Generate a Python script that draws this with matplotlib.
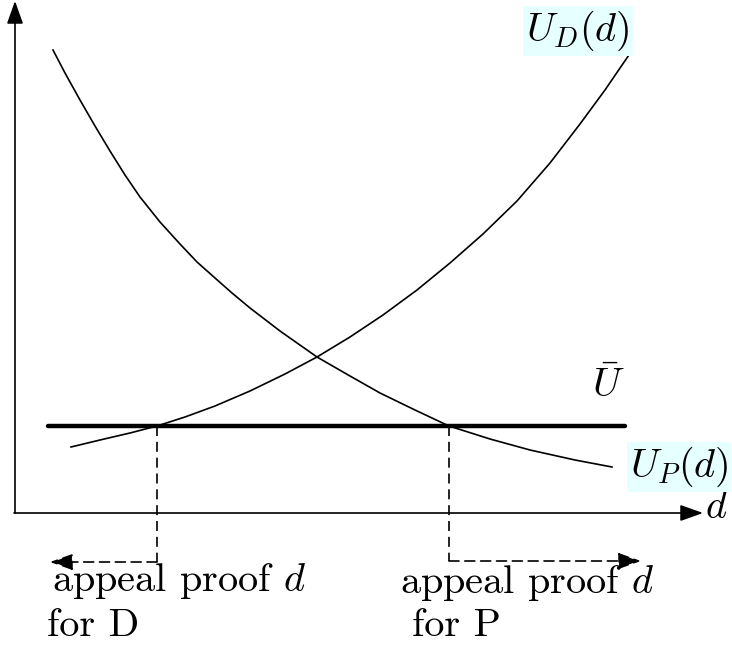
import matplotlib
matplotlib.use("Agg")
import matplotlib.pyplot as plt

plt.rcParams['font.family'] = 'serif'
plt.rcParams['font.serif'] = ['cmr10', 'DejaVu Serif']
plt.rcParams['mathtext.fontset'] = 'cm'
plt.rcParams['axes.unicode_minus'] = False

# curves (pixel coords, y pointing down)
ud_x = [71, 100, 130, 157, 185, 215, 250, 285, 317, 350, 383, 417, 450, 483, 517, 550, 580, 605, 631]
ud_y = [447, 440, 433, 426, 417, 406, 391, 374, 357, 337, 315, 290, 263, 234, 201, 163, 124, 90, 52]

up_x = [53, 65, 80, 95, 110, 125, 140, 160, 180, 197, 215, 232, 250, 280, 317, 350, 380, 415, 449,
        490, 530, 575, 612]
up_y = [50, 73, 100, 126, 151, 175, 197, 222, 244, 262, 278, 293, 308, 331, 357, 376, 393, 410, 426,
        439, 450, 460, 467]

ubar_y = 426
ubar_x = [48, 625]
cut_d = 157   # appeal proof d for D
cut_p = 449   # appeal proof d for P

highlight = '#e6ffff'

fig = plt.figure(figsize=(7.32, 6.5), dpi=100)
ax = fig.add_axes([0, 0, 1, 1])
ax.set_xlim(0, 732)
ax.set_ylim(650, 0)
ax.axis('off')

arrow = dict(arrowstyle='-|>,head_length=0.7,head_width=0.25', color='black',
             lw=1.2, mutation_scale=20, shrinkA=0, shrinkB=0)

# axes
ax.annotate('', xy=(15, 1), xytext=(15, 513), arrowprops=arrow)
ax.annotate('', xy=(703, 513), xytext=(14, 513), arrowprops=arrow)
ax.text(716, 508, '$d$', fontsize=29, ha='center', va='center')

# curves
ax.plot(ud_x, ud_y, color='black', lw=1.2, solid_joinstyle='round')
ax.plot(up_x, up_y, color='black', lw=1.2, solid_joinstyle='round')
ax.plot(ubar_x, [ubar_y, ubar_y], color='black', lw=3.2, solid_capstyle='round')

# dashed guides
dash = (0, (6, 3.5))
ax.plot([cut_d, cut_d], [ubar_y, 562], color='black', lw=1.2, linestyle=dash)
ax.plot([cut_p, cut_p], [ubar_y, 561], color='black', lw=1.2, linestyle=dash)
darrow = dict(arrow, linestyle=dash)
ax.annotate('', xy=(50, 562), xytext=(cut_d, 562), arrowprops=darrow)
ax.annotate('', xy=(641, 561), xytext=(cut_p, 561), arrowprops=darrow)

# labels
box = dict(boxstyle='square,pad=0.08', fc=highlight, ec='none')
ax.text(578, 31, '$U_D(d)$', fontsize=29, ha='center', va='center', bbox=box)
ax.text(679, 467, '$U_P(d)$', fontsize=29, ha='center', va='center', bbox=box)
ax.text(608, 386, r'$\bar{U}$', fontsize=29, ha='center', va='center')

ax.text(52, 581, 'appeal proof $d$', fontsize=29, ha='left', va='center')
ax.text(47, 626, 'for D', fontsize=29, ha='left', va='center')
ax.text(400, 583, 'appeal proof $d$', fontsize=29, ha='left', va='center')
ax.text(412, 626, 'for P', fontsize=29, ha='left', va='center')

fig.savefig('out.png', dpi=100)
